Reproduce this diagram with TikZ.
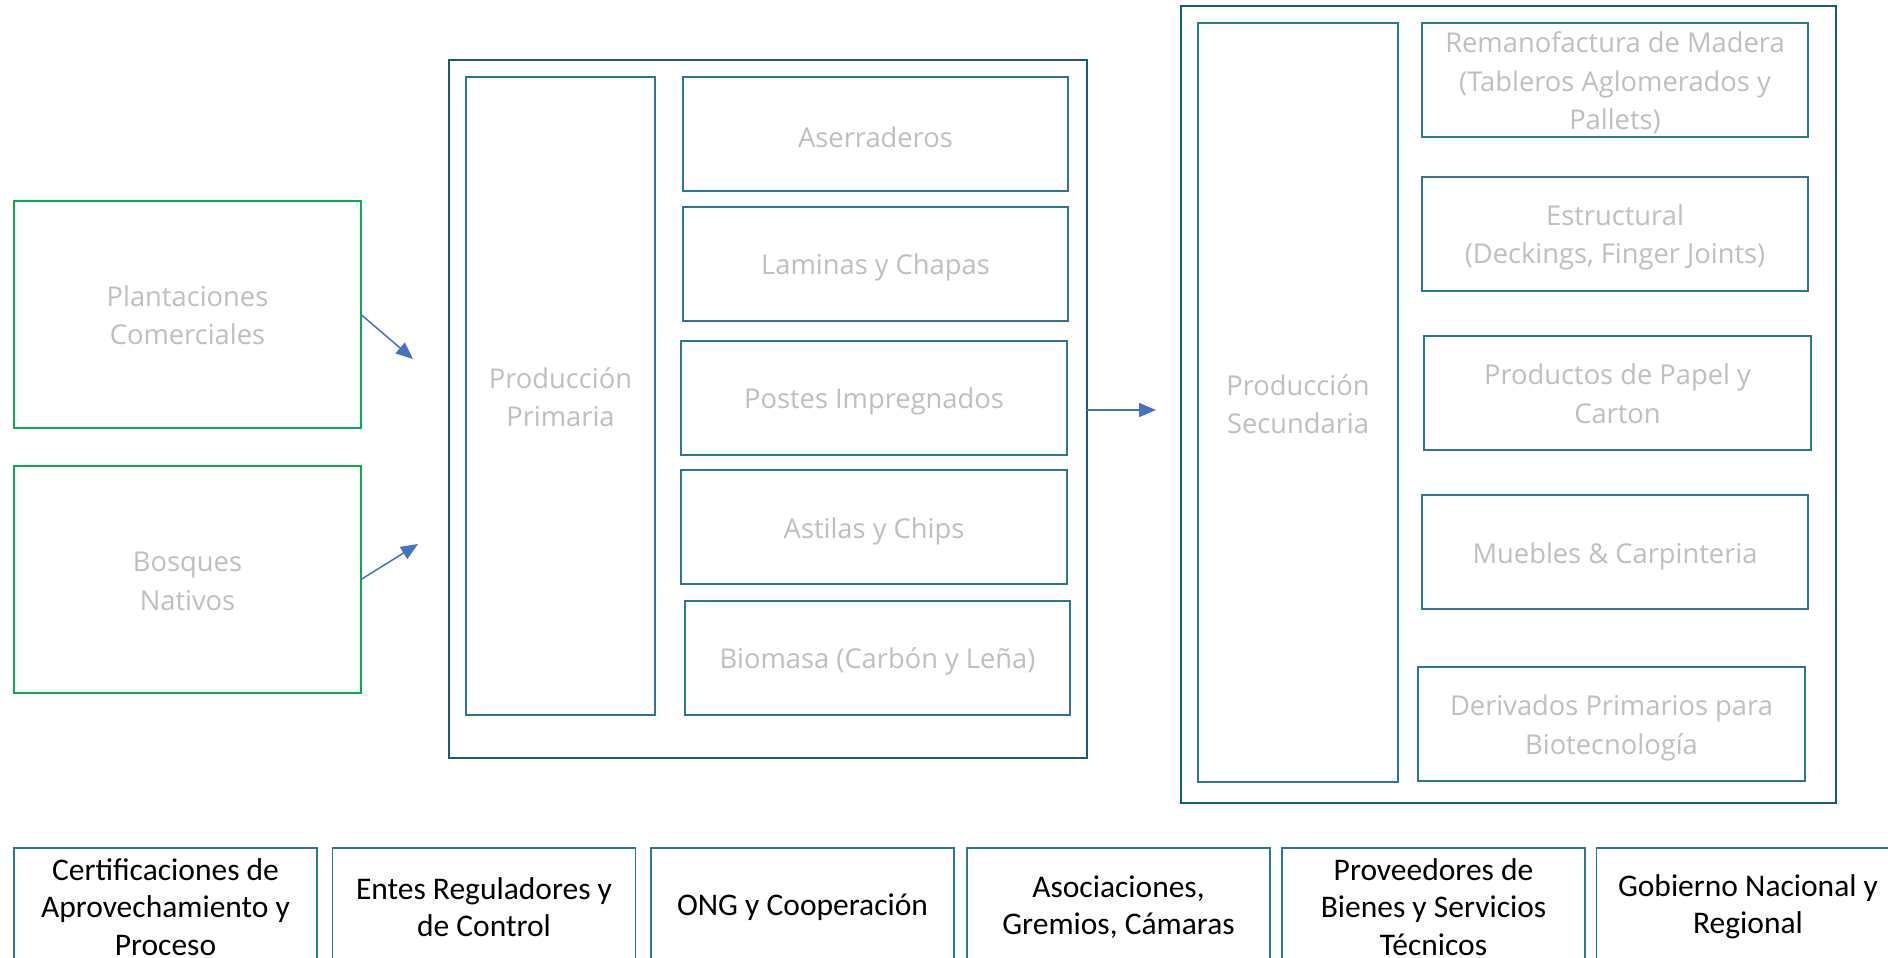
\documentclass[tikz,border=0pt]{standalone}
\usepackage{fontspec}
\setmainfont{Carlito}
\newfontfamily\segoe{Open Sans}
\usetikzlibrary{arrows.meta}
\definecolor{greenbox}{RGB}{0,176,80}
\definecolor{outerteal}{RGB}{20,94,118}
\definecolor{innerteal}{RGB}{44,120,142}
\definecolor{txtgray}{RGB}{191,191,191}
\definecolor{arrowblue}{RGB}{68,114,196}
\tikzset{
  x=1pt, y=-1pt,
  base/.style={rectangle, inner sep=0pt, outer sep=0pt, align=center},
  gtext/.style={inner sep=0pt, outer sep=0pt, align=center, text=txtgray,
    font=\segoe\fontsize{27.3}{38.5}\selectfont},
  sourcebox/.style={base, draw=greenbox, line width=2.5pt,
    minimum width=347pt, minimum height=227pt},
  outerbox/.style={base, draw=outerteal, line width=2.5pt},
  innerbox/.style={base, draw=innerteal, line width=1.5pt},
  itembox/.style={innerbox, minimum height=114pt},
  bottombox/.style={base, draw=innerteal, line width=1.5pt, text=black,
    font=\fontsize{31.5}{37.5}\selectfont, minimum width=303pt, minimum height=118pt},
  flow/.style={draw=arrowblue, line width=1.5pt, -{Triangle[length=17pt,width=14pt]}}
}
\begin{document}
\begin{tikzpicture}
\useasboundingbox (0,0) rectangle (1888,958);
\clip (0,0) rectangle (1888,958);
\fill[white] (0,0) rectangle (1888,958);

% sources
\node[sourcebox, label={[gtext,yshift=-1pt]center:{Plantaciones\\Comerciales}}] (plant) at (187.5,314.5) {};
\node[sourcebox, label={[gtext,yshift=-2pt]center:{Bosques\\Nativos}}] (bosq) at (187.5,579.5) {};

% primary production
\node[outerbox, minimum width=638pt, minimum height=698pt] (prim) at (768,409) {};
\node[innerbox, minimum width=189pt, minimum height=638pt,
  label={[gtext,yshift=-1pt]center:{Producción\\Primaria}}] (prodprim) at (560.5,396) {};
\node[itembox, minimum width=385pt, label={[gtext,yshift=-3.5pt]center:Aserraderos}] (aserr) at (875.5,134) {};
\node[itembox, minimum width=385pt, label={[gtext,yshift=-3.5pt]center:{Laminas y Chapas}}] (lamin) at (875.5,264) {};
\node[itembox, minimum width=386pt, label={[gtext,yshift=-3.5pt]center:{Postes Impregnados}}] (postes) at (874,398) {};
\node[itembox, minimum width=386pt, label={[gtext,yshift=-4pt]center:{Astilas y Chips}}] (astil) at (874,527) {};
\node[itembox, minimum width=385pt, label={[gtext,yshift=-3.5pt]center:{Biomasa (Carbón y Leña)}}] (biom) at (877.5,658) {};

% secondary production
\node[outerbox, minimum width=655pt, minimum height=797pt] (sec) at (1508.5,404.5) {};
\node[innerbox, minimum width=200pt, minimum height=759pt,
  label={[gtext,yshift=-1.5pt]center:{Producción\\Secundaria}}] (prodsec) at (1298,402.5) {};
\node[itembox, minimum width=386pt, label={[gtext,yshift=-3pt]center:{Remanofactura de Madera\\(Tableros Aglomerados y\\Pallets)}}] (reman) at (1615,80) {};
\node[itembox, minimum width=386pt, label={[gtext,yshift=-3.5pt]center:{Estructural\\(Deckings, Finger Joints)}}] (estr) at (1615,234) {};
\node[itembox, minimum width=387pt, label={[gtext,yshift=-1pt]center:{Productos de Papel y\\Carton}}] (papel) at (1617.5,393) {};
\node[itembox, minimum width=386pt, label={[gtext,yshift=-4pt]center:{Muebles \& Carpinteria}}] (mueb) at (1615,552) {};
\node[itembox, minimum width=387pt, label={[gtext,yshift=-4pt]center:{Derivados Primarios para\\Biotecnología}}] (deriv) at (1611.5,724) {};

% arrows
\coordinate (a1) at (413,359);
\coordinate (a2) at (418,544);
\coordinate (a3) at (1156,410);
\draw[flow] (plant.east) -- (a1);
\draw[flow] (bosq.east) -- (a2);
\draw[flow] (prim.east |- a3) -- (a3);

% bottom row
\node[bottombox] (b1) at (165.5,907) {Certificaciones de\\Aprovechamiento y\\Proceso};
\node[bottombox] (b2) at (484,907) {Entes Reguladores y\\de Control};
\node[bottombox] (b3) at (802.5,907) {ONG y Cooperación};
\node[bottombox] (b4) at (1118.5,907) {Asociaciones,\\Gremios, Cámaras};
\node[bottombox] (b5) at (1433.5,907) {Proveedores de\\Bienes y Servicios\\Técnicos};
\node[bottombox] (b6) at (1748,907) {Gobierno Nacional y\\Regional};
\end{tikzpicture}
\end{document}
